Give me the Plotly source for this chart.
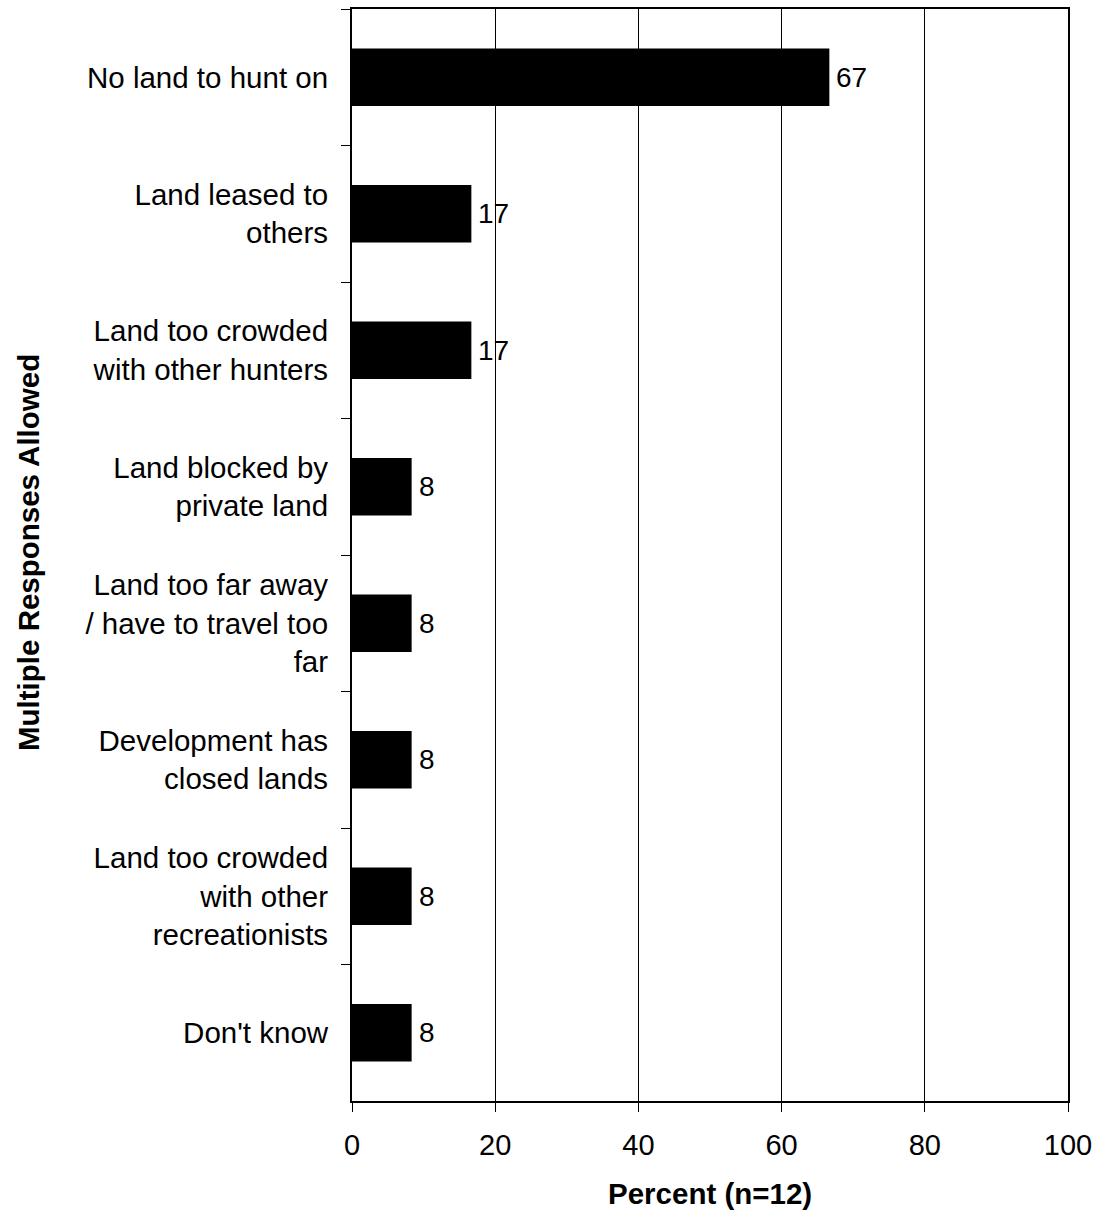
import plotly.graph_objects as go

categories = [
    "No land to hunt on",
    "Land leased to<br>others",
    "Land too crowded<br>with other hunters",
    "Land blocked by<br>private land",
    "Land too far away<br>/ have to travel too<br>far",
    "Development has<br>closed lands",
    "Land too crowded<br>with other<br>recreationists",
    "Don't know",
]
values = [66.67, 16.67, 16.67, 8.33, 8.33, 8.33, 8.33, 8.33]
x_ticks = [0, 20, 40, 60, 80, 100]
x_title = "Percent (n=12)"
y_title = "Multiple Responses Allowed"

FONT = "Liberation Sans, Arial, sans-serif"

W, H = 1097, 1211
L, T = 352, 9
PW, PH = 716, 1092
R = W - L - PW
B = H - T - PH

fig = go.Figure(
    go.Bar(
        x=values,
        y=categories,
        orientation="h",
        marker=dict(color="black", line=dict(width=0)),
        width=0.42,
        hoverinfo="x+y",
    )
)

annotations = []
for cat, v in zip(categories, values):
    annotations.append(dict(
        x=v, y=cat, xref="x", yref="y",
        text=f"{v:.0f}",
        xanchor="left", yanchor="middle",
        xshift=5,
        showarrow=False,
        font=dict(family=FONT, size=28, color="black"),
    ))

annotations += [
    dict(
        text=f"<b>{x_title}</b>",
        xref="paper", yref="paper",
        x=0.5, y=-(1193 - 1101) / PH,
        xanchor="center", yanchor="middle",
        showarrow=False,
        font=dict(size=29.5),
    ),
    dict(
        text=f"<b>{y_title}</b>",
        xref="paper", yref="paper",
        x=(28 - 352) / PW, y=0.5 - (553 - 555) / PH,
        xanchor="center", yanchor="middle",
        textangle=-90,
        showarrow=False,
        font=dict(size=29.5),
    ),
]

fig.update_layout(
    width=W,
    height=H,
    margin=dict(l=L, r=R, t=T, b=B, pad=0, autoexpand=False),
    plot_bgcolor="white",
    paper_bgcolor="white",
    showlegend=False,
    font=dict(family=FONT, size=29.5, color="black"),
    xaxis=dict(
        range=[0, 100],
        tickvals=x_ticks,
        ticks="outside",
        ticklen=9,
        tickcolor="black",
        tickwidth=1,
        showgrid=True,
        gridcolor="black",
        gridwidth=1,
        showline=True,
        linecolor="black",
        linewidth=2,
        mirror=True,
        zeroline=False,
        automargin=False,
        tickfont=dict(size=29),
        ticklabelstandoff=8,
    ),
    yaxis=dict(
        type="category",
        autorange="reversed",
        tickson="boundaries",
        ticks="outside",
        ticklen=9,
        tickcolor="black",
        tickwidth=1,
        showgrid=False,
        showline=True,
        linecolor="black",
        linewidth=2,
        mirror=True,
        automargin=False,
        tickfont=dict(size=29.5),
        ticklabelstandoff=16,
    ),
    annotations=annotations,
)

fig.write_html(
    "out.html",
    config={"displayModeBar": False},
    post_script="document.body.style.margin='0';document.body.style.overflow='hidden';",
)
